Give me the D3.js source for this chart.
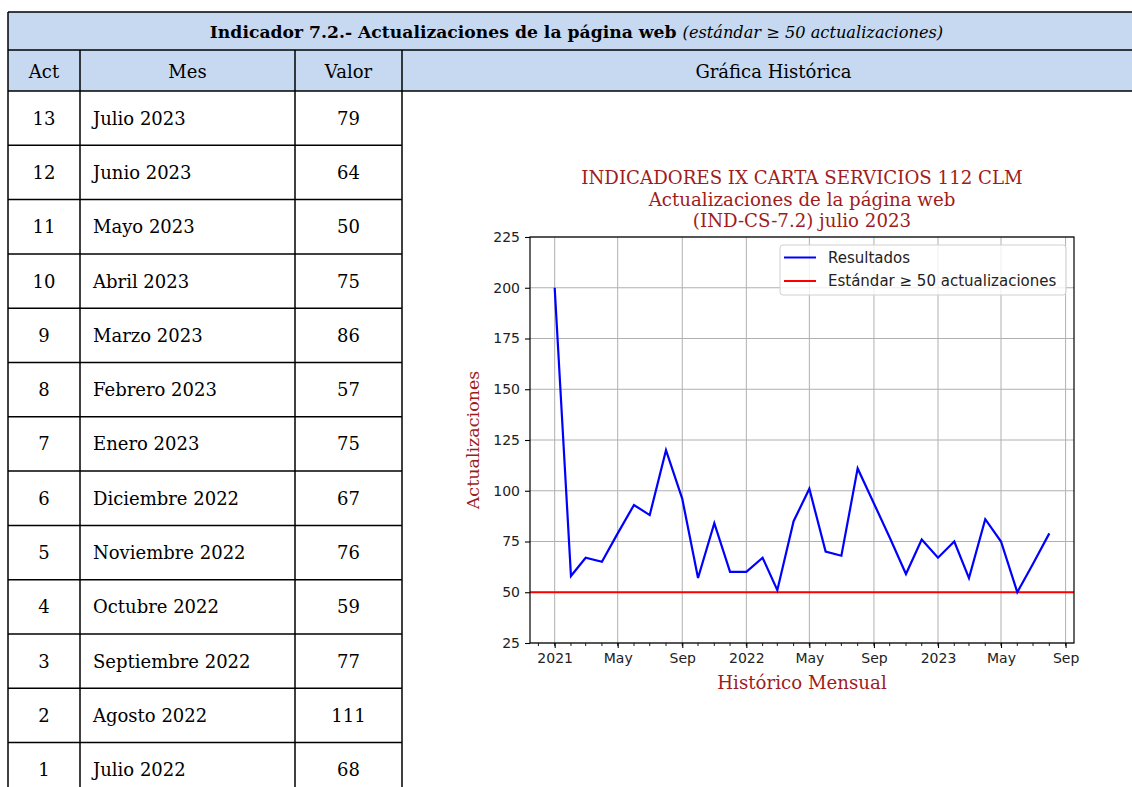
<!DOCTYPE html>
<html><head><meta charset="utf-8">
<script src="https://cdn.jsdelivr.net/npm/d3@7"></script>
<style>body{margin:0;background:#fff}svg{display:block}</style>
</head><body>
<svg id="c" width="1132" height="787"></svg>
<script>
// ---- Table data ----
const tableAct = [13,12,11,10,9,8,7,6,5,4,3,2,1];
const tableMes = ["Julio 2023","Junio 2023","Mayo 2023","Abril 2023","Marzo 2023","Febrero 2023","Enero 2023","Diciembre 2022","Noviembre 2022","Octubre 2022","Septiembre 2022","Agosto 2022","Julio 2022"];
const tableValor = [79,64,50,75,86,57,75,67,76,59,77,111,68];
const headerCols = ["Act","Mes","Valor","Gráfica Histórica"];

// ---- Chart data (as plotted) ----
const chartDates = ["2021-01","2021-02","2021-03","2021-04","2021-05","2021-06","2021-07","2021-08","2021-09","2021-10","2021-11","2021-12",
  "2022-01","2022-02","2022-03","2022-04","2022-05","2022-06","2022-07","2022-08","2022-10","2022-11","2022-12",
  "2023-01","2023-02","2023-03","2023-04","2023-05","2023-06","2023-07","2023-08"];
const chartValues = [200,58,67,65,79,93,88,120,96,57,84,60,
  60,67,51,85,101,70,68,111,77,59,76,
  67,75,57,86,75,50,64,79];
const standardValue = 50;
const yTicks = [25,50,75,100,125,150,175,200,225];
const xTickDates = ["2021-01","2021-05","2021-09","2022-01","2022-05","2022-09","2023-01","2023-05","2023-09"];
const xTickLabels = ["2021","May","Sep","2022","May","Sep","2023","May","Sep"];
const titleLines = ["INDICADORES IX CARTA SERVICIOS 112 CLM","Actualizaciones de la página web","(IND-CS-7.2) julio 2023"];
const legendLabels = ["Resultados","Estándar ≥ 50 actualizaciones"];

const svg = d3.select("#c");
const parseM = d3.timeParse("%Y-%m");

// ---- Table layout ----
const colX = [8,80,295,402,1145];
const serif = "'DejaVu Serif', serif";
const headFill = "#c6d9f1";
const rowTop = 91, rowH = 54.3;
const yRow = d3.scaleLinear().domain([0,1]).range([rowTop,rowTop+rowH]);

svg.append("rect").attr("x",colX[0]).attr("y",12).attr("width",colX[4]-colX[0]).attr("height",38).attr("fill",headFill);
svg.append("rect").attr("x",colX[0]).attr("y",50).attr("width",colX[4]-colX[0]).attr("height",41).attr("fill",headFill);

const t1 = svg.append("text").attr("x",(colX[0]+colX[4])/2).attr("y",38).attr("text-anchor","middle")
  .attr("font-family",serif).attr("font-size",17.2).attr("fill","#000");
t1.append("tspan").attr("font-weight","bold").text("Indicador 7.2.- Actualizaciones de la página web ");
t1.append("tspan").attr("font-style","italic").attr("font-size",16.2).text("(estándar ≥ 50 actualizaciones)");

headerCols.forEach((h,i)=>{
  svg.append("text").attr("x",(colX[i]+colX[i+1])/2).attr("y",78).attr("text-anchor","middle")
    .attr("font-family",serif).attr("font-size",18).attr("fill","#000").text(h);
});

tableAct.forEach((a,i)=>{
  const yc = yRow(i+0.5)+6.5;
  svg.append("text").attr("x",(colX[0]+colX[1])/2).attr("y",yc).attr("text-anchor","middle")
    .attr("font-family",serif).attr("font-size",18).text(a);
  svg.append("text").attr("x",93).attr("y",yc)
    .attr("font-family",serif).attr("font-size",18).text(tableMes[i]);
  svg.append("text").attr("x",(colX[2]+colX[3])/2).attr("y",yc).attr("text-anchor","middle")
    .attr("font-family",serif).attr("font-size",18).text(tableValor[i]);
});

const lw = 1.5;
const hl = (x1,x2,y)=>svg.append("line").attr("x1",x1).attr("x2",x2).attr("y1",y).attr("y2",y).attr("stroke","#000").attr("stroke-width",lw);
const vl = (x,y1,y2)=>svg.append("line").attr("x1",x).attr("x2",x).attr("y1",y1).attr("y2",y2).attr("stroke","#000").attr("stroke-width",lw);
hl(colX[0],colX[4],12); hl(colX[0],colX[4],50); hl(colX[0],colX[4],rowTop);
tableAct.forEach((a,i)=>{ hl(colX[0],colX[3],yRow(i+1)); });
vl(colX[0],12,787);
vl(colX[1],50,787); vl(colX[2],50,787); vl(colX[3],50,787);

// ---- Chart ----
const x = d3.scaleTime().domain([new Date(2020,10,15), new Date(2023,8,17)]).range([530,1074]);
const y = d3.scaleLinear().domain([25,225]).range([643,237]);
const darkRed = "#a01c1c";
const sans = "'DejaVu Sans', sans-serif";
const dserif = "'DejaVu Serif', serif";

const g = svg.append("g");
g.selectAll(".gx").data(xTickDates).join("line")
  .attr("x1",d=>x(parseM(d))).attr("x2",d=>x(parseM(d))).attr("y1",y(25)).attr("y2",y(225))
  .attr("stroke","#b0b0b0").attr("stroke-width",1);
g.selectAll(".gy").data(yTicks).join("line")
  .attr("x1",x.range()[0]).attr("x2",x.range()[1]).attr("y1",d=>y(d)).attr("y2",d=>y(d))
  .attr("stroke","#b0b0b0").attr("stroke-width",1);

g.append("line").attr("x1",x.range()[0]).attr("x2",x.range()[1]).attr("y1",y(standardValue)).attr("y2",y(standardValue))
  .attr("stroke","#ff0000").attr("stroke-width",2);

const line = d3.line().x((d,i)=>x(parseM(chartDates[i]))).y(d=>y(d));
g.append("path").datum(chartValues).attr("d",line).attr("fill","none").attr("stroke","#0000ff").attr("stroke-width",2.2);

g.append("rect").attr("x",x.range()[0]).attr("y",y(225)).attr("width",x.range()[1]-x.range()[0]).attr("height",y(25)-y(225))
  .attr("fill","none").attr("stroke","#000").attr("stroke-width",1.2);

const xAxis = d3.axisBottom(x).tickValues(xTickDates.map(parseM))
  .tickFormat((d,i)=>xTickLabels[i]).tickSize(5).tickSizeOuter(0).tickPadding(5);
const gx = svg.append("g").attr("transform",`translate(0,${y(25)})`).call(xAxis);
gx.select(".domain").remove();
gx.selectAll("text").attr("font-family",sans).attr("font-size",14).attr("fill","#222");
gx.selectAll("line").attr("stroke","#000").attr("stroke-width",1.1);
const minor = d3.timeMonth.range(new Date(2020,11,1), new Date(2023,8,2));
svg.append("g").selectAll("line").data(minor).join("line")
  .attr("x1",d=>x(d)).attr("x2",d=>x(d)).attr("y1",y(25)).attr("y2",y(25)+3)
  .attr("stroke","#000").attr("stroke-width",0.9);

const yAxis = d3.axisLeft(y).tickValues(yTicks).tickSize(5).tickSizeOuter(0).tickPadding(5);
const gy = svg.append("g").attr("transform",`translate(${x.range()[0]},0)`).call(yAxis);
gy.select(".domain").remove();
gy.selectAll("text").attr("font-family",sans).attr("font-size",14).attr("fill","#222");
gy.selectAll("line").attr("stroke","#000").attr("stroke-width",1.1);

const cx = (x.range()[0]+x.range()[1])/2;
titleLines.forEach((t,i)=>{
  svg.append("text").attr("x",cx).attr("y",184+i*21.5).attr("text-anchor","middle")
    .attr("font-family",dserif).attr("font-size",18.2).attr("fill",darkRed).text(t);
});
svg.append("text").attr("x",cx).attr("y",689).attr("text-anchor","middle")
  .attr("font-family",dserif).attr("font-size",18.2).attr("fill",darkRed).text("Histórico Mensual");
svg.append("text").attr("transform",`translate(479,${(y(25)+y(225))/2}) rotate(-90)`).attr("text-anchor","middle")
  .attr("font-family",dserif).attr("font-size",17.5).attr("fill",darkRed).text("Actualizaciones");

const lg = svg.append("g");
lg.append("rect").attr("x",780).attr("y",245).attr("width",286).attr("height",50).attr("rx",3)
  .attr("fill","#fff").attr("fill-opacity",0.8).attr("stroke","#d0d0d0").attr("stroke-width",1);
const legColors = ["#0000ff","#ff0000"];
legendLabels.forEach((t,i)=>{
  const ly = 257.5 + i*23.5;
  lg.append("line").attr("x1",784).attr("x2",816).attr("y1",ly).attr("y2",ly).attr("stroke",legColors[i]).attr("stroke-width",2);
  lg.append("text").attr("x",828).attr("y",ly+5).attr("font-family",sans).attr("font-size",15).attr("fill","#222").text(t);
});
</script>
</body></html>
